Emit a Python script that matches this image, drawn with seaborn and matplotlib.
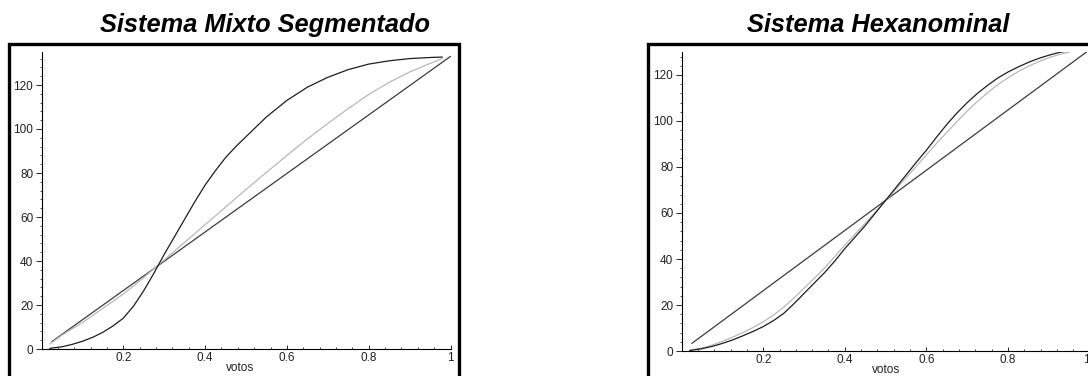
import matplotlib
matplotlib.use('Agg')
from matplotlib import pyplot as plt
from matplotlib.patches import Rectangle
from matplotlib.ticker import MultipleLocator
import seaborn as sns

sns.set_style('white')
plt.rcParams['font.family'] = ['Liberation Sans', 'DejaVu Sans']

# Sistema Mixto Segmentado (left panel)
mixto_votos = [0.02, 0.05, 0.075, 0.1, 0.125, 0.15, 0.175, 0.2, 0.225, 0.25,
               0.275, 0.3, 0.325, 0.35, 0.375, 0.4, 0.425, 0.45, 0.475, 0.5,
               0.55, 0.6, 0.65, 0.7, 0.75, 0.8, 0.85, 0.9, 0.95, 0.98]
mixto_escanos = [0.3, 1.0, 2.1, 3.5, 5.3, 7.6, 10.5, 14, 19.5, 26.5,
                 34.5, 43, 51, 59, 67, 74.5, 81, 87, 92, 96.5,
                 105.5, 113, 119, 123.5, 127, 129.5, 131, 132, 132.5, 132.7]
mixto_gris = [2.2, 6.3, 9.2, 12, 15.2, 18.5, 21.7, 25, 28.7, 32.5,
              36.5, 40.5, 44.5, 48.5, 52.5, 56.5, 60.5, 64.5, 68.5, 72.5,
              80.3, 88, 95.5, 102.5, 109.3, 115.7, 121.2, 125.9, 129.8, 132]
mixto_lineal_x = [0.025, 1.0]
mixto_lineal_y = [3.3, 133]

# Sistema Hexanominal (right panel)
hexa_votos = [0.02, 0.05, 0.075, 0.1, 0.125, 0.15, 0.175, 0.2, 0.225, 0.25,
              0.275, 0.3, 0.325, 0.35, 0.375, 0.4, 0.425, 0.45, 0.475, 0.5,
              0.525, 0.55, 0.575, 0.6, 0.625, 0.65, 0.675, 0.7, 0.725, 0.75,
              0.775, 0.8, 0.825, 0.85, 0.875, 0.9, 0.925, 0.95, 0.975]
hexa_escanos = [0.2, 1.0, 2.0, 3.3, 4.8, 6.6, 8.5, 10.6, 13.2, 16.3,
                20.5, 25, 29.5, 34, 39, 44.5, 49.5, 54.5, 60, 65.5,
                71, 76.5, 82, 87.3, 93, 98.5, 103.5, 108, 112, 115.5,
                118.7, 121.3, 123.5, 125.5, 127.2, 128.6, 129.8, 130.6, 131.3]
hexa_gris = [0.4, 1.3, 2.6, 4.2, 6.0, 8.0, 10.2, 12.7, 15.6, 19,
             23, 27.3, 31.6, 36, 41, 46, 50.8, 55.5, 60.4, 65.3,
             70.3, 75.3, 80.3, 85.3, 90.3, 95, 99.8, 104.3, 108.5, 112.3,
             115.8, 118.8, 121.5, 123.8, 125.8, 127.5, 128.9, 130, 131]
hexa_lineal_x = [0.025, 1.0]
hexa_lineal_y = [3.3, 131]

W, H = 1088, 376
fig = plt.figure(figsize=(W / 100, H / 100), dpi=100)


def panel(left_px, zero_px, width_px, ymax, ppu, x, curva, gris, lx, ly, label_x):
    ax = fig.add_axes([left_px / W, (H - zero_px) / H, width_px / W, ymax * ppu / H])
    sns.lineplot(x=lx, y=ly, ax=ax, color='#3c3c3c', lw=0.9, estimator=None)
    sns.lineplot(x=x, y=gris, ax=ax, color='#b8b8b8', lw=0.9, estimator=None)
    sns.lineplot(x=x, y=curva, ax=ax, color='#1e1e1e', lw=0.9, estimator=None)
    ax.set_xlim(0, 1.0)
    ax.set_ylim(0, ymax)
    ax.patch.set_alpha(0)
    for s in ['top', 'right']:
        ax.spines[s].set_visible(False)
    for s in ['left', 'bottom']:
        ax.spines[s].set_color('black')
        ax.spines[s].set_linewidth(0.8)
    ax.set_xticks([0.2, 0.4, 0.6, 0.8, 1.0])
    ax.set_xticklabels(['0.2', '0.4', '0.6', '0.8', '1'])
    ax.xaxis.set_minor_locator(MultipleLocator(0.04))
    ax.set_yticks([0, 20, 40, 60, 80, 100, 120])
    ax.yaxis.set_minor_locator(MultipleLocator(4))
    ax.tick_params(axis='y', which='major', direction='out', length=4, width=0.7,
                   pad=2, labelsize=8.5, labelcolor='#222222', left=True)
    ax.tick_params(axis='y', which='minor', direction='out', length=1.8, width=0.6, left=True)
    ax.tick_params(axis='x', which='major', direction='in', length=3, width=0.7,
                   pad=2, labelsize=8.5, labelcolor='#222222', bottom=True)
    ax.tick_params(axis='x', which='minor', direction='in', length=1.8, width=0.6, bottom=True)
    ax.set_xlabel('votos', fontsize=8.5, color='#222222')
    ax.xaxis.set_label_coords(label_x, -0.045)
    ax.set_ylabel('')
    return ax


panel(41.5, 349, 409, 135, 2.2, mixto_votos, mixto_escanos, mixto_gris,
      mixto_lineal_x, mixto_lineal_y, 0.485)
ax2 = panel(681.6, 351, 408, 130, 2.3, hexa_votos, hexa_escanos, hexa_gris,
            hexa_lineal_x, hexa_lineal_y, 0.5)
# the last label sits at the picture's edge: keep it inside
ax2.get_xticklabels()[-1].set_ha('right')

# thick frames around each plot (bottom/right edges run off the picture)
for x0, x1 in [(9, 458.5), (648, 1100)]:
    fig.patches.append(Rectangle((x0 / W, -20 / H), (x1 - x0) / W, (H - 43.5 + 20) / H,
                                 transform=fig.transFigure, fill=False,
                                 edgecolor='black', linewidth=2.4))

fig.text(265 / W, (H - 32) / H, 'Sistema Mixto Segmentado', ha='center', va='baseline',
         fontsize=18.3, fontweight='bold', fontstyle='italic', color='black')
fig.text(878 / W, (H - 32) / H, 'Sistema Hexanominal', ha='center', va='baseline',
         fontsize=18.3, fontweight='bold', fontstyle='italic', color='black')

plt.savefig('out.png', dpi=100)
